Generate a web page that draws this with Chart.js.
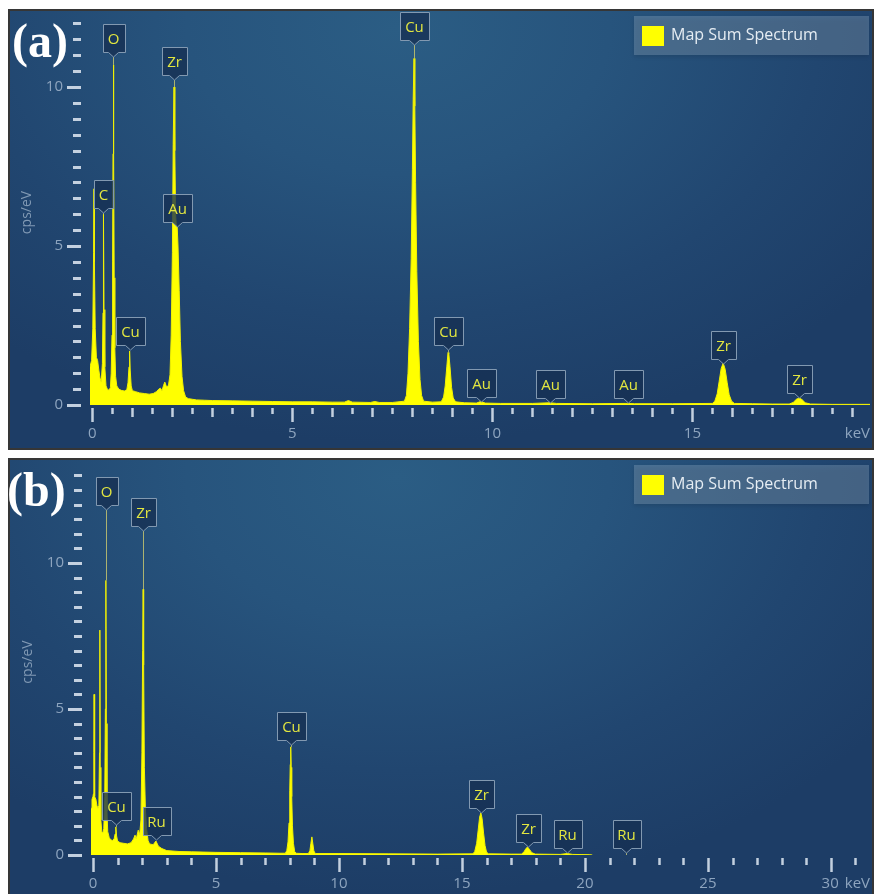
<!DOCTYPE html>
<html lang="en">
<head>
<meta charset="UTF-8">
<title>EDS Map Sum Spectrum</title>
<script src="https://cdn.jsdelivr.net/npm/chart.js"></script>
<style>
  body {
    margin: 0;
    width: 874px;
    height: 894px;
    overflow: hidden;
    position: relative;
    background: #ffffff;
  }
  .panel {
    position: absolute;
    left: 8px;
    width: 866px;
    box-sizing: border-box;
    border: 2px solid #363636;
    background: radial-gradient(ellipse 70% 95% at 45% 4%, #2b5d84 0%, #27547d 35%, #214670 70%, #1d3d66 100%);
    overflow: hidden;
  }
  #panelA { top: 9px; height: 441px; }
  #panelB { top: 458px; height: 444px; }
  .panel canvas { position: absolute; left: 0; top: 0; }
  .tag {
    position: absolute;
    font: bold 48px "Liberation Serif", "Times New Roman", serif;
    line-height: 48px;
    color: #ffffff;
    z-index: 5;
  }
</style>
</head>
<body>
<div class="panel" id="panelA"><canvas id="chartA" width="862" height="437"></canvas></div>
<div class="panel" id="panelB"><canvas id="chartB" width="862" height="440"></canvas></div>
<div class="tag" style="left:12px; top:17px;">(a)</div>
<div class="tag" style="left:7px; top:466px;">(b)</div>

<script>
// ---- panel (a) spectrum, keV vs cps/eV ----
const energyA = [
  -0.06, -0.02, 0.01, 0.03, 0.04, 0.05, 0.07, 0.10, 0.13, 0.16, 0.19, 0.22,
  0.25, 0.265, 0.277, 0.29, 0.31, 0.34, 0.38, 0.42,
  0.45, 0.47, 0.49, 0.505, 0.515, 0.525, 0.535, 0.545, 0.56, 0.58, 0.61,
  0.66, 0.72, 0.80, 0.86, 0.89, 0.915, 0.93, 0.945, 0.97, 1.00,
  1.08, 1.18, 1.30, 1.42, 1.52, 1.60, 1.66, 1.70, 1.74, 1.78, 1.81, 1.85, 1.90,
  1.94, 1.97, 2.00, 2.02, 2.04, 2.06, 2.08, 2.10, 2.12, 2.14, 2.17, 2.20, 2.24, 2.28, 2.33, 2.40, 2.50,
  2.60, 2.80, 3.00, 3.50, 4.00, 4.50, 5.00, 5.50, 6.00, 6.30, 6.40, 6.50, 6.95, 7.06, 7.17, 7.50,
  7.80, 7.85, 7.89, 7.93, 7.97, 8.00, 8.02, 8.04, 8.06, 8.08, 8.11, 8.15, 8.19, 8.23, 8.28,
  8.50, 8.72, 8.78, 8.82, 8.86, 8.89, 8.91, 8.94, 8.98, 9.02, 9.08,
  9.30, 9.60, 9.71, 9.82, 10.20, 11.00, 11.44, 11.60, 12.50, 13.38, 13.55, 14.50,
  15.50, 15.56, 15.62, 15.67, 15.72, 15.77, 15.82, 15.87, 15.92, 15.98, 16.05,
  16.50, 17.00, 17.42, 17.52, 17.60, 17.67, 17.74, 17.82, 17.95, 18.50, 19.44
];
const cpsA = [
  1.2, 1.4, 2.4, 4.8, 6.8, 4.5, 2.4, 1.5, 1.4, 1.1, 0.85, 0.72,
  1.3, 2.9, 6.0, 3.0, 1.2, 0.6, 0.48, 0.47,
  0.55, 1.0, 2.2, 4.5, 7.9, 10.7, 8.0, 4.0, 1.8, 0.9, 0.6,
  0.5, 0.46, 0.44, 0.48, 0.7, 1.2, 1.7, 1.1, 0.6, 0.45,
  0.42, 0.38, 0.36, 0.34, 0.36, 0.42, 0.5, 0.53, 0.45, 0.62, 0.72, 0.58, 0.6,
  0.95, 2.2, 4.8, 8.2, 10.0, 8.0, 6.0, 5.6, 5.6, 5.0, 3.6, 2.0, 0.9, 0.45, 0.25, 0.2, 0.18,
  0.16, 0.15, 0.14, 0.13, 0.12, 0.11, 0.10, 0.10, 0.09, 0.09, 0.14, 0.09, 0.08, 0.11, 0.08, 0.08,
  0.12, 0.3, 1.0, 2.4, 4.6, 7.4, 9.6, 10.9, 9.4, 7.0, 4.2, 2.0, 0.8, 0.3, 0.12,
  0.09, 0.1, 0.25, 0.6, 1.2, 1.65, 1.62, 1.2, 0.55, 0.22, 0.1,
  0.07, 0.06, 0.11, 0.06, 0.05, 0.05, 0.07, 0.05, 0.04, 0.05, 0.04, 0.04,
  0.05, 0.12, 0.35, 0.75, 1.15, 1.32, 1.12, 0.7, 0.32, 0.12, 0.05,
  0.04, 0.03, 0.03, 0.08, 0.18, 0.22, 0.17, 0.07, 0.03, 0.02, 0.02
];
const peakNamesA = ['O', 'C', 'Zr', 'Au', 'Cu', 'Cu', 'Cu', 'Au', 'Au', 'Au', 'Zr', 'Zr'];
const peakEnergyA = [0.525, 0.277, 2.04, 2.12, 0.93, 8.04, 8.90, 9.71, 11.44, 13.38, 15.77, 17.67];
const peakTipA = [10.94, 6.04, 10.22, 5.6, 1.73, 11.32, 1.73, 0.09, 0.06, 0.06, 1.3, 0.22];
const xTicksA = [0, 5, 10, 15];

// ---- panel (b) spectrum ----
const energyB = [
  -0.08, -0.04, 0.00, 0.02, 0.035, 0.045, 0.055, 0.08, 0.12, 0.16, 0.20, 0.24,
  0.265, 0.28, 0.295, 0.32, 0.36, 0.40, 0.44, 0.48, 0.505, 0.525, 0.545, 0.57, 0.60,
  0.66, 0.72, 0.80, 0.86, 0.90, 0.93, 0.96, 1.00, 1.10, 1.25, 1.40, 1.55, 1.65, 1.71, 1.76, 1.84, 1.90,
  1.95, 1.99, 2.02, 2.04, 2.06, 2.09, 2.13, 2.18, 2.24, 2.30, 2.45, 2.56, 2.66, 2.80,
  3.00, 3.50, 4.00, 5.00, 6.00, 7.00, 7.60,
  7.82, 7.88, 7.93, 7.97, 8.00, 8.02, 8.04, 8.06, 8.08, 8.11, 8.15, 8.20, 8.26,
  8.50, 8.76, 8.82, 8.86, 8.90, 8.94, 8.98, 9.04,
  10.00, 12.00, 14.00,
  15.45, 15.52, 15.60, 15.66, 15.72, 15.77, 15.82, 15.88, 15.94, 16.00, 16.08,
  17.00, 17.42, 17.52, 17.60, 17.67, 17.74, 17.84, 17.98,
  19.00, 19.28, 19.50, 20.20, 20.30
];
const cpsB = [
  1.6, 1.9, 2.0, 2.1, 3.5, 5.5, 3.0, 2.0, 1.9, 1.7, 1.6, 1.7,
  3.5, 7.7, 3.0, 1.2, 0.8, 0.75, 0.9, 2.0, 5.0, 9.4, 4.5, 1.5, 0.8,
  0.6, 0.52, 0.5, 0.55, 0.72, 0.96, 0.65, 0.48, 0.42, 0.4, 0.38, 0.42, 0.55, 0.68, 0.55, 0.85, 0.7,
  1.2, 3.5, 7.0, 9.1, 6.5, 3.0, 1.6, 0.9, 0.5, 0.38, 0.35, 0.48, 0.3, 0.22,
  0.15, 0.12, 0.11, 0.09, 0.08, 0.07, 0.06,
  0.06, 0.15, 0.45, 1.1, 2.2, 3.1, 3.7, 3.0, 2.0, 1.0, 0.4, 0.12, 0.06,
  0.05, 0.05, 0.15, 0.4, 0.62, 0.38, 0.14, 0.05,
  0.05, 0.04, 0.03,
  0.04, 0.12, 0.4, 0.85, 1.3, 1.44, 1.25, 0.75, 0.32, 0.1, 0.04,
  0.03, 0.03, 0.1, 0.22, 0.27, 0.2, 0.08, 0.03,
  0.02, 0.05, 0.02, 0.01, 0
];
const peakNamesB = ['O', 'Zr', 'Cu', 'Ru', 'Cu', 'Zr', 'Zr', 'Ru', 'Ru'];
const peakEnergyB = [0.525, 2.04, 0.93, 2.56, 8.04, 15.77, 17.67, 19.28, 21.66];
const peakTipB = [11.8, 11.1, 1.03, 0.51, 3.77, 1.44, 0.27, 0.07, 0.07];
const xTicksB = [0, 5, 10, 15, 20, 25, 30];

const yTicks = [0, 5, 10];
const seriesName = 'Map Sum Spectrum';
const xUnit = 'keV';
const yTitle = 'cps/eV';

const TEXT_FONT = '"Open Sans", "Noto Sans", sans-serif';

// axes, tick marks, legend and peak markers in the instrument style
const edsFrame = {
  id: 'edsFrame',
  afterDatasetsDraw(chart, args, o) {
    const { ctx, chartArea: area, scales: { x, y } } = chart;
    ctx.save();

    // y tick marks every 0.5
    ctx.strokeStyle = 'rgba(214,224,236,0.9)';
    ctx.lineWidth = 3;
    const nY = Math.floor(y.max / o.yMinor + 1e-6);
    for (let i = 0; i <= nY; i++) {
      const v = i * o.yMinor;
      const py = Math.round(y.getPixelForValue(v)) + 0.5;
      const major = yTicks.includes(v);
      ctx.beginPath();
      ctx.moveTo(area.left - (major ? 23 : 17), py);
      ctx.lineTo(area.left - 9, py);
      ctx.stroke();
    }
    ctx.fillStyle = '#8ea5bf';
    ctx.font = '15px ' + TEXT_FONT;
    ctx.textAlign = 'right';
    ctx.textBaseline = 'middle';
    yTicks.forEach(v => ctx.fillText(String(v), area.left - 27, y.getPixelForValue(v)));

    // y title
    ctx.save();
    ctx.translate(area.left - 63, (area.top + area.bottom) / 2 + 4);
    ctx.rotate(-Math.PI / 2);
    ctx.textAlign = 'center';
    ctx.font = '14px ' + TEXT_FONT;
    ctx.fillStyle = '#8099b4';
    ctx.fillText(yTitle, 0, 0);
    ctx.restore();

    // x tick marks
    ctx.strokeStyle = 'rgba(214,224,236,0.9)';
    ctx.lineWidth = 2.5;
    const top = area.bottom + 3;
    const nX = Math.floor(x.max / o.xMinor + 1e-6);
    for (let i = 0; i <= nX; i++) {
      const v = i * o.xMinor;
      const px = Math.round(x.getPixelForValue(v)) + 0.5;
      let len = o.shortLen;
      if (Math.abs(v % 5) < 1e-6) len = 14;
      else if (o.midLen && Math.abs(v % 1) < 1e-6) len = o.midLen;
      ctx.beginPath();
      ctx.moveTo(px, top);
      ctx.lineTo(px, top + len);
      ctx.stroke();
    }

    // x labels and unit
    const ly = area.bottom + 29;
    ctx.font = '15px ' + TEXT_FONT;
    ctx.fillStyle = '#8ea5bf';
    ctx.textAlign = 'right';
    ctx.fillText(xUnit, area.right, ly);
    const unitLeft = area.right - ctx.measureText(xUnit).width;
    o.xTicks.forEach(v => {
      const label = String(v);
      const px = x.getPixelForValue(v);
      const w = ctx.measureText(label).width;
      if (px + w / 2 > unitLeft - 6) {
        ctx.textAlign = 'right';
        ctx.fillText(label, unitLeft - 6, ly);
      } else {
        ctx.textAlign = 'center';
        ctx.fillText(label, px, ly);
      }
    });

    // legend box
    const bw = 235, bh = 39;
    const bx = area.right - 1 - bw, by = area.top + 4;
    ctx.save();
    ctx.shadowColor = 'rgba(0,0,0,0.35)';
    ctx.shadowBlur = 4;
    ctx.shadowOffsetY = 2;
    ctx.fillStyle = 'rgba(150,175,200,0.33)';
    ctx.fillRect(bx, by, bw, bh);
    ctx.restore();
    ctx.fillStyle = '#ffff00';
    ctx.fillRect(bx + 8, by + 10, 22, 20);
    ctx.fillStyle = '#e6edf3';
    ctx.font = '16px ' + TEXT_FONT;
    ctx.textAlign = 'left';
    ctx.fillText(chart.data.datasets[0].label, bx + 37, by + bh / 2);

    // peak markers
    const pts = chart.data.datasets[0].data;
    ctx.font = '15px ' + TEXT_FONT;
    o.names.forEach((name, i) => {
      const e = o.energy[i];
      const px = Math.round(x.getPixelForValue(e)) + 0.5;
      const tipY = Math.round(y.getPixelForValue(o.tip[i]));
      let peak = 0;
      pts.forEach(p => { if (Math.abs(p.x - e) <= 0.03 && p.y > peak) peak = p.y; });
      const peakY = y.getPixelForValue(peak);
      if (peakY > tipY + 1) {
        ctx.strokeStyle = 'rgba(196,196,110,0.85)';
        ctx.lineWidth = 1;
        ctx.beginPath();
        ctx.moveTo(px, tipY);
        ctx.lineTo(px, peakY);
        ctx.stroke();
      }
      const w = Math.round(ctx.measureText(name).width) + 10, h = 28;
      const lx = Math.round(px - w / 2) + 0.5, lyTop = tipY - 5 - h + 0.5;
      ctx.beginPath();
      ctx.moveTo(lx, lyTop);
      ctx.lineTo(lx + w, lyTop);
      ctx.lineTo(lx + w, lyTop + h);
      ctx.lineTo(px + 5, lyTop + h);
      ctx.lineTo(px, tipY);
      ctx.lineTo(px - 5, lyTop + h);
      ctx.lineTo(lx, lyTop + h);
      ctx.closePath();
      ctx.fillStyle = 'rgba(22,48,82,0.78)';
      ctx.fill();
      ctx.strokeStyle = '#8299b1';
      ctx.lineWidth = 1;
      ctx.stroke();
      ctx.fillStyle = '#e2e640';
      ctx.textAlign = 'center';
      ctx.fillText(name, px, lyTop + h / 2 + 1);
    });

    ctx.restore();
  }
};

function buildChart(id, energy, cps, cfg) {
  return new Chart(document.getElementById(id), {
    type: 'line',
    data: {
      datasets: [{
        label: seriesName,
        data: energy.map((e, i) => ({ x: e, y: cps[i] })),
        borderColor: '#f2f200',
        backgroundColor: '#ffff00',
        borderWidth: 1,
        fill: 'origin',
        pointRadius: 0,
        tension: 0
      }]
    },
    options: {
      responsive: false,
      animation: false,
      devicePixelRatio: 1,
      layout: { padding: cfg.padding },
      scales: {
        x: { type: 'linear', min: cfg.xMin, max: cfg.xMax, display: false },
        y: { type: 'linear', min: 0, max: cfg.yMax, display: false }
      },
      plugins: {
        legend: { display: false },
        tooltip: { enabled: false },
        edsFrame: cfg.frame
      }
    },
    plugins: [edsFrame]
  });
}

buildChart('chartA', energyA, cpsA, {
  padding: { left: 80, right: 2, top: 1, bottom: 43 },
  xMin: -0.06, xMax: 19.44, yMax: 12.36,
  frame: {
    yMinor: 0.5, xMinor: 0.5, shortLen: 6, midLen: 9, xTicks: xTicksA,
    names: peakNamesA, energy: peakEnergyA, tip: peakTipA
  }
});

buildChart('chartB', energyB, cpsB, {
  padding: { left: 81, right: 2, top: 1, bottom: 45 },
  xMin: -0.08, xMax: 31.59, yMax: 13.49,
  frame: {
    yMinor: 0.5, xMinor: 1, shortLen: 7, midLen: 0, xTicks: xTicksB,
    names: peakNamesB, energy: peakEnergyB, tip: peakTipB
  }
});
</script>
</body>
</html>
